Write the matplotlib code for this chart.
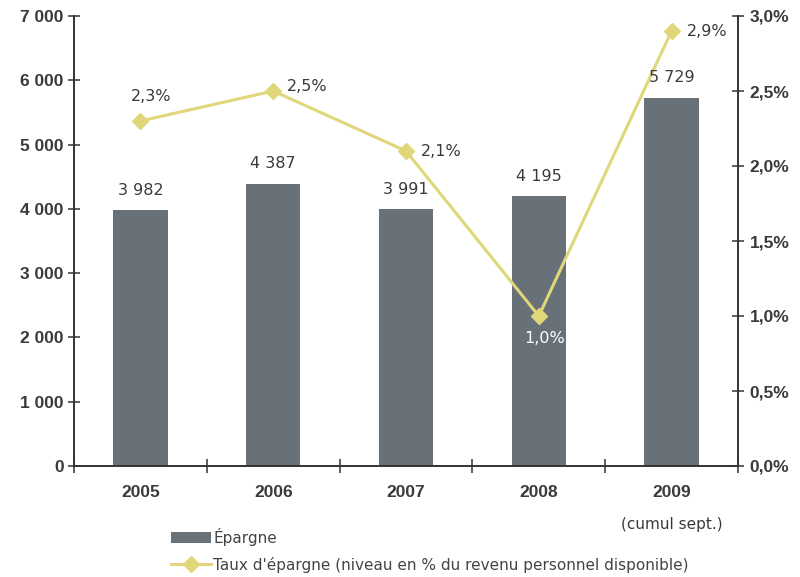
import matplotlib
matplotlib.use("Agg")
import matplotlib.pyplot as plt
from matplotlib.lines import Line2D
from matplotlib.patches import Patch

years = ["2005", "2006", "2007", "2008", "2009"]
epargne = [3982, 4387, 3991, 4195, 5729]
taux = [2.3, 2.5, 2.1, 1.0, 2.9]
bar_labels = ["3 982", "4 387", "3 991", "4 195", "5 729"]
taux_labels = ["2,3%", "2,5%", "2,1%", "1,0%", "2,9%"]
left_ticks = [0, 1000, 2000, 3000, 4000, 5000, 6000, 7000]
left_tick_labels = ["0", "1 000", "2 000", "3 000", "4 000", "5 000", "6 000", "7 000"]
right_ticks = [0, 0.5, 1.0, 1.5, 2.0, 2.5, 3.0]
right_tick_labels = ["0,0%", "0,5%", "1,0%", "1,5%", "2,0%", "2,5%", "3,0%"]

bar_color = "#687078"
line_color = "#E0D77A"
axis_color = "#333333"
text_color = "#3a3a3a"

plt.rcParams['font.family'] = ['DejaVu Sans']
tick_font = dict(family="Liberation Sans", size=12.5, weight="bold")

fig = plt.figure(figsize=(8, 5.77), dpi=100)
ax = fig.add_axes([74/800, 1-466/577, 664/800, 450/577])
ax2 = ax.twinx()

x = list(range(len(years)))
ax.bar(x, epargne, width=0.41, color=bar_color, zorder=2)
ax.set_xlim(-0.5, 4.5)
ax.set_ylim(0, 7000)
ax2.set_ylim(0, 3.0)

for a in (ax, ax2):
    a.spines["top"].set_visible(False)
    for sp in ["left", "right", "bottom"]:
        a.spines[sp].set_color(axis_color)
        a.spines[sp].set_linewidth(1.2)

ax.set_yticks(left_ticks)
ax.set_yticklabels(left_tick_labels, fontdict=tick_font, color=text_color)
ax.tick_params(axis="y", direction="inout", length=9, width=1.1, color=axis_color, pad=3)

ax.set_xticks([i - 0.5 for i in range(len(years) + 1)])
ax.set_xticklabels([])
ax.tick_params(axis="x", direction="inout", length=10, width=1.1, color=axis_color)
ax.set_xticks(x, minor=True)
ax.set_xticklabels(years, minor=True, fontdict=tick_font, color=text_color)
ax.tick_params(axis="x", which="minor", length=0, pad=14)
ax.annotate("(cumul sept.)", xy=(4, 0), xycoords="data", xytext=(0, -37),
            textcoords="offset points", ha="center", va="top",
            fontsize=11, color=text_color)

ax2.set_yticks(right_ticks)
ax2.set_yticklabels(right_tick_labels, fontdict=tick_font, color=text_color)
ax2.tick_params(axis="y", direction="inout", length=9, width=1.1, color=axis_color, pad=4)

ax2.plot(x, taux, color=line_color, lw=2.2, marker="D", markersize=8,
         zorder=3)

# bar value labels drawn on ax2 so they sit above the line
for xi, v, lab in zip(x, epargne, bar_labels):
    ax2.annotate(lab, xy=(xi, v), xycoords=ax.transData, xytext=(0, 9),
                 textcoords="offset points", ha="center", va="bottom",
                 fontsize=11.5, color=text_color, zorder=5)

offsets = [(8, 12, "center", "bottom"), (10, 3, "left", "center"),
           (11, 0, "left", "center"), (4, -11, "center", "top"),
           (11, 0, "left", "center")]
for i, (xi, v, lab) in enumerate(zip(x, taux, taux_labels)):
    dx, dy, ha, va = offsets[i]
    col = "white" if i == 3 else text_color
    ax2.annotate(lab, xy=(xi, v), xytext=(dx, dy), textcoords="offset points",
                 ha=ha, va=va, fontsize=11.5, color=col, zorder=5)

handles = [Patch(facecolor=bar_color, edgecolor="none"),
           Line2D([0], [0], color=line_color, lw=2.2, marker="D", markersize=8)]
fig.legend(handles, ["Épargne",
                     "Taux d'épargne (niveau en % du revenu personnel disponible)"],
           loc="upper left", bbox_to_anchor=(165/800, 1-522/577), frameon=False,
           fontsize=11, labelcolor="#444444", handlelength=2.6, handletextpad=0.15,
           labelspacing=0.7, borderaxespad=0)

fig.savefig("out.png", dpi=100)
